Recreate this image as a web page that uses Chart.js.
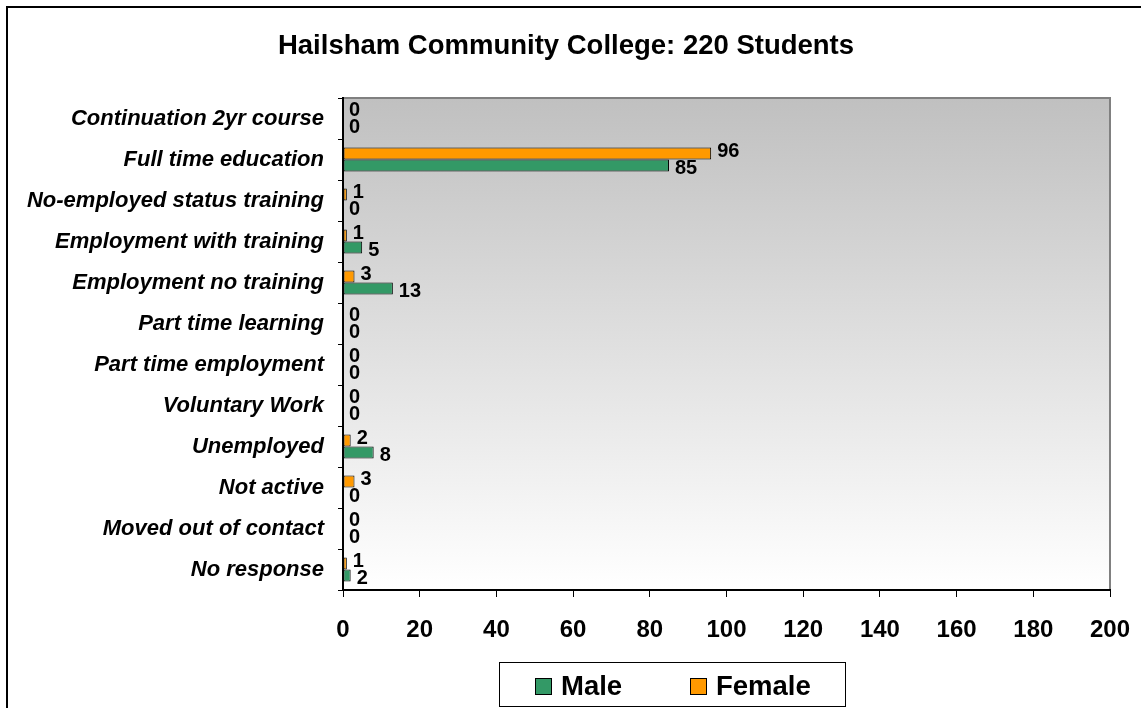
<!DOCTYPE html>
<html>
<head>
<meta charset="utf-8">
<script src="https://cdn.jsdelivr.net/npm/chart.js@4/dist/chart.umd.min.js"></script>
<style>
html,body{margin:0;padding:0;background:#fff;}
#wrap{width:1141px;height:708px;position:relative;}
</style>
</head>
<body>
<div id="wrap"><canvas id="c" width="1141" height="708"></canvas></div>
<script>
const categories = [
  "Continuation 2yr course",
  "Full time education",
  "No-employed status training",
  "Employment with training",
  "Employment no training",
  "Part time learning",
  "Part time employment",
  "Voluntary Work",
  "Unemployed",
  "Not active",
  "Moved out of contact",
  "No response"
];
const femaleValues = [0, 96, 1, 1, 3, 0, 0, 0, 2, 3, 0, 1];
const maleValues   = [0, 85, 0, 5, 13, 0, 0, 0, 8, 0, 0, 2];
const xTickValues  = [0, 20, 40, 60, 80, 100, 120, 140, 160, 180, 200];
const titleText = "Hailsham Community College: 220 Students";

const FONT = "'Liberation Sans', Arial, Helvetica, sans-serif";

const bgPlugin = {
  id: 'bg',
  beforeDraw(chart) {
    const ctx = chart.ctx, a = chart.chartArea;
    ctx.save();
    ctx.fillStyle = '#ffffff';
    ctx.fillRect(0, 0, chart.width, chart.height);
    ctx.strokeStyle = '#000000';
    ctx.lineWidth = 2;
    ctx.strokeRect(7, 7, chart.width + 20, chart.height + 20);
    const g = ctx.createLinearGradient(0, a.top, 0, a.bottom);
    g.addColorStop(0, '#C0C0C0');
    g.addColorStop(1, '#FFFFFF');
    ctx.fillStyle = g;
    ctx.fillRect(a.left, a.top, a.right - a.left, a.bottom - a.top);
    ctx.strokeStyle = '#808080';
    ctx.lineWidth = 2;
    ctx.beginPath();
    ctx.moveTo(a.left, a.top);
    ctx.lineTo(a.right, a.top);
    ctx.lineTo(a.right, a.bottom);
    ctx.stroke();
    ctx.restore();
  }
};

const labelPlugin = {
  id: 'vals',
  afterDatasetsDraw(chart) {
    const ctx = chart.ctx;
    ctx.save();
    ctx.font = "bold 20px " + FONT;
    ctx.fillStyle = '#000';
    ctx.textAlign = 'left';
    ctx.textBaseline = 'middle';
    chart.data.datasets.forEach((ds, di) => {
      const meta = chart.getDatasetMeta(di);
      const dy = di === 0 ? -2 : 3;
      meta.data.forEach((el, i) => {
        ctx.fillText(String(ds.data[i]), el.x + 6, el.y + dy);
      });
    });
    ctx.restore();
  }
};

const legendPlugin = {
  id: 'boxLegend',
  afterDraw(chart) {
    const ctx = chart.ctx;
    ctx.save();
    ctx.strokeStyle = '#000';
    ctx.lineWidth = 1;
    ctx.fillStyle = '#fff';
    ctx.fillRect(499.5, 662.5, 346, 44);
    ctx.strokeRect(499.5, 662.5, 346, 44);
    const order = [1, 0];
    const pos = [{sx: 535, tx: 561}, {sx: 690, tx: 716}];
    ctx.font = "bold 27.5px " + FONT;
    ctx.textBaseline = 'middle';
    ctx.textAlign = 'left';
    order.forEach((di, k) => {
      const ds = chart.data.datasets[di];
      ctx.fillStyle = ds.backgroundColor;
      ctx.fillRect(pos[k].sx + 0.5, 678.5, 16, 16);
      ctx.strokeRect(pos[k].sx + 0.5, 678.5, 16, 16);
      ctx.fillStyle = '#000';
      ctx.fillText(ds.label, pos[k].tx, 687);
    });
    ctx.restore();
  }
};

new Chart(document.getElementById('c'), {
  type: 'bar',
  data: {
    labels: categories,
    datasets: [
      { label: 'Female', data: femaleValues, backgroundColor: '#FF9900', borderColor: '#000000', borderWidth: 1, borderSkipped: false, categoryPercentage: 0.585, barPercentage: 1.0 },
      { label: 'Male', data: maleValues, backgroundColor: '#339966', borderColor: '#000000', borderWidth: 1, borderSkipped: false, categoryPercentage: 0.585, barPercentage: 1.0 }
    ]
  },
  options: {
    indexAxis: 'y',
    responsive: false,
    animation: false,
    devicePixelRatio: 1,
    layout: { padding: { left: 22, right: 31, top: 0, bottom: 0 } },
    plugins: {
      legend: { display: false },
      tooltip: { enabled: false },
      title: {
        display: true,
        text: titleText,
        color: '#000',
        font: { family: FONT, size: 27.5, weight: 'bold', lineHeight: 1.2 },
        padding: { top: 30, bottom: 35 }
      }
    },
    scales: {
      x: {
        min: 0, max: 200,
        afterBuildTicks(scale) { scale.ticks = xTickValues.map(v => ({ value: v })); },
        afterFit(scale) { scale.height = 118; scale.paddingRight = 0; scale.paddingLeft = 0; },
        grid: { display: true, drawOnChartArea: false, drawTicks: true, tickLength: 7, color: '#000', tickColor: '#000' },
        border: { display: true, color: '#000', width: 2 },
        ticks: { color: '#000', padding: 19, font: { family: FONT, size: 24, weight: 'bold' }, maxRotation: 0, autoSkip: false }
      },
      y: {
        afterFit(scale) { scale.width = 321; scale.paddingTop = 0; scale.paddingBottom = 0; },
        grid: { display: true, drawOnChartArea: false, drawTicks: true, tickLength: 5, color: '#000', tickColor: '#000', offset: true },
        border: { display: true, color: '#000', width: 2 },
        ticks: { color: '#000', padding: 14, font: { family: FONT, size: 22, weight: 'bold', style: 'italic' }, autoSkip: false }
      }
    }
  },
  plugins: [bgPlugin, labelPlugin, legendPlugin]
});
</script>
</body>
</html>
